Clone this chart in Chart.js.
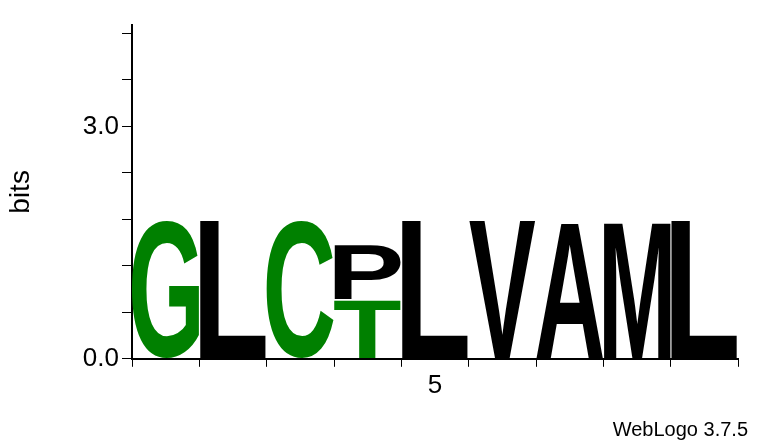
<!DOCTYPE html>
<html>
<head>
<script src="https://cdn.jsdelivr.net/npm/chart.js@4"></script>
<style>
  body { margin: 0; background: #fff; }
  #wrap { width: 760px; height: 444px; }
</style>
</head>
<body>
<div id="wrap"><canvas id="logo"></canvas></div>
<script>
const positions = ['1', '2', '3', '4', '5', '6', '7', '8', '9'];
const bottomLetters = ['G', 'L', 'C', 'T', 'L', 'V', 'A', 'M', 'L'];
const bottomBits = [1.77, 1.77, 1.77, 0.76, 1.77, 1.77, 1.77, 1.77, 1.77];
const topLetters = ['', '', '', 'P', '', '', '', '', ''];
const topBits = [0, 0, 0, 0.71, 0, 0, 0, 0, 0];

const green = ['G', 'S', 'T', 'Y', 'C', 'Q', 'N'];
const letterColor = l => green.includes(l) ? '#008000' : '#000000';

const letterPlugin = {
  id: 'letters',
  afterDatasetsDraw(chart) {
    const ctx = chart.ctx;
    const layers = [bottomLetters, topLetters];
    layers.forEach((letters, di) => {
      chart.getDatasetMeta(di).data.forEach((bar, i) => {
        const l = letters[i];
        if (!l) return;
        const p = bar.getProps(['x', 'y', 'base', 'width'], true);
        const h = Math.abs(p.base - p.y);
        if (h < 1) return;
        ctx.save();
        ctx.font = 'bold 100px "Liberation Sans", Arial, sans-serif';
        const m = ctx.measureText(l);
        const gw = m.actualBoundingBoxLeft + m.actualBoundingBoxRight;
        const gh = m.actualBoundingBoxAscent + m.actualBoundingBoxDescent;
        ctx.translate(p.x - p.width / 2, Math.min(p.y, p.base));
        ctx.scale(p.width / gw, h / gh);
        ctx.fillStyle = letterColor(l);
        ctx.textBaseline = 'alphabetic';
        ctx.fillText(l, m.actualBoundingBoxLeft, m.actualBoundingBoxAscent);
        ctx.restore();
      });
    });
    ctx.save();
    ctx.font = '20px "Liberation Sans", Arial, sans-serif';
    ctx.fillStyle = '#000';
    ctx.textAlign = 'right';
    ctx.fillText('WebLogo 3.7.5', 748, 436);
    ctx.restore();
  }
};

new Chart(document.getElementById('logo'), {
  type: 'bar',
  data: {
    labels: positions,
    datasets: [
      { data: bottomBits, backgroundColor: 'rgba(0,0,0,0)', stack: 's' },
      { data: topBits, backgroundColor: 'rgba(0,0,0,0)', stack: 's' }
    ]
  },
  options: {
    responsive: true,
    maintainAspectRatio: false,
    animation: false,
    layout: { padding: { top: 25, right: 22, bottom: 40, left: 0 } },
    plugins: { legend: { display: false }, tooltip: { enabled: false } },
    datasets: { bar: { categoryPercentage: 1, barPercentage: 1 } },
    scales: {
      x: {
        stacked: true,
        grid: { drawOnChartArea: false, color: '#000', tickLength: 8 },
        border: { color: '#000', width: 2 },
        ticks: {
          color: '#000',
          font: { size: 26, family: '"Liberation Sans", Arial, sans-serif' },
          maxRotation: 0,
          autoSkip: false,
          callback: (v, i) => positions[i] === '5' ? '5' : ''
        }
      },
      y: {
        stacked: true,
        min: 0,
        max: 4.31,
        afterFit: s => { s.width = 132; },
        afterBuildTicks: s => {
          const t = [];
          for (let k = 0; k <= 21; k++) t.push({ value: Math.round(k * 2) / 10 });
          s.ticks = t;
        },
        grid: { drawOnChartArea: false, color: '#000', tickLength: 10 },
        border: { color: '#000', width: 2 },
        title: {
          display: true, text: 'bits', color: '#000',
          font: { size: 28, family: '"Liberation Sans", Arial, sans-serif' }
        },
        ticks: {
          color: '#000',
          font: { size: 26, family: '"Liberation Sans", Arial, sans-serif' },
          callback: v => Math.abs(v - Math.round(v)) < 1e-6 ? v.toFixed(1) : ''
        }
      }
    }
  },
  plugins: [letterPlugin]
});
</script>
</body>
</html>
